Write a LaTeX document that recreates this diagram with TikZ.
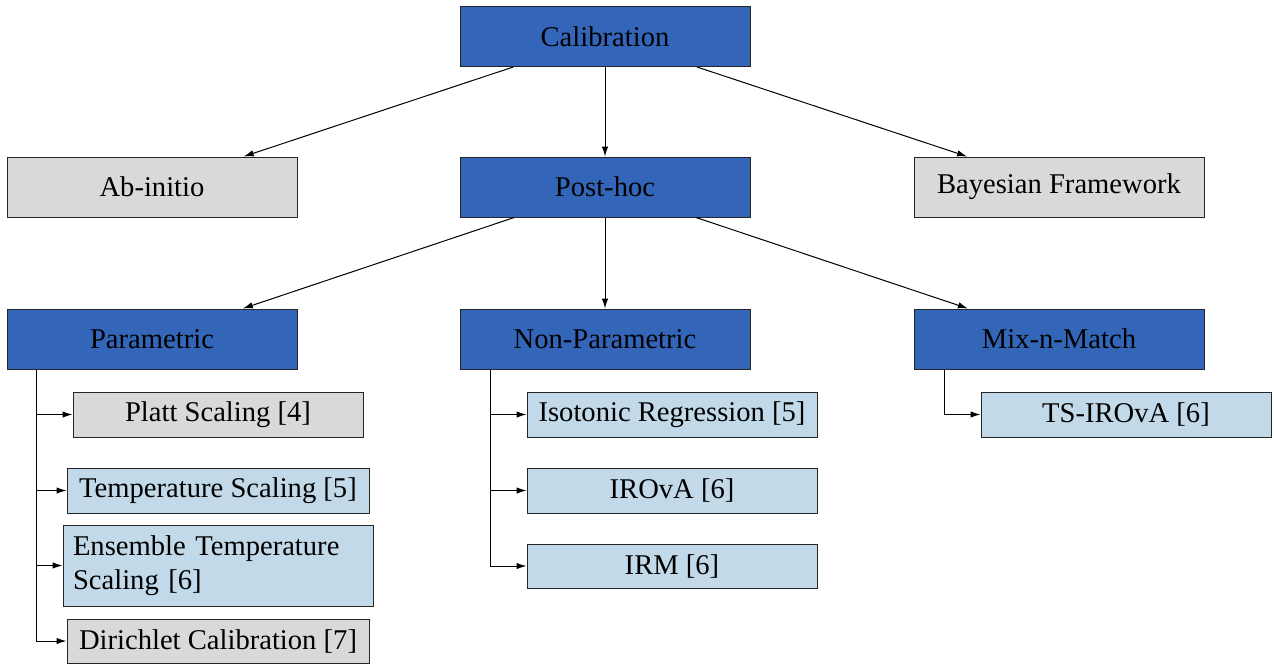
\documentclass[tikz,border=0pt]{standalone}
\usepackage{fontspec}
\setmainfont{Liberation Serif}
\usetikzlibrary{arrows.meta}
\definecolor{dblue}{RGB}{51,102,185}
\definecolor{lblue}{RGB}{193,217,232}
\definecolor{lgray}{RGB}{217,217,217}
\begin{document}
\begin{tikzpicture}[x=0.5pt,y=-0.5pt,
 box/.style={draw=black!85, line width=0.5pt, inner sep=0pt, font=\fontsize{14.3}{17}\selectfont},
 big/.style={box, minimum width=145pt, minimum height=30pt},
 mainbox/.style={big, fill=dblue},
 sidebox/.style={big, fill=lgray},
 leafg/.style={box, fill=lgray, minimum height=22.5pt},
 leafb/.style={box, fill=lblue, minimum height=22.5pt},
 arr/.style={-{Latex[length=5pt,width=3.2pt]}, line width=0.5pt}]
\useasboundingbox (0,0) rectangle (1274,666);
\node[mainbox] (cal) at (605,36.5) {Calibration};
\node[sidebox] (ab) at (152,187) {Ab-initio};
\node[mainbox] (post) at (605,187) {Post-hoc};
\node[sidebox] (bay) at (1059,187) {Bayesian Framework};
\node[mainbox] (param) at (152,339) {Parametric};
\node[mainbox] (nonp) at (605,339) {Non-Parametric};
\node[mainbox] (mix) at (1059,339) {Mix-n-Match};
\node[leafg, minimum width=145pt] (platt) at (218,414.5) {Platt Scaling [4]};
\node[leafb, minimum width=151pt] (temp) at (218,490.5) {Temperature Scaling [5]};
\node[leafb, minimum height=40.5pt, text width=145pt, inner xsep=5pt, align=left] (ens) at (218,565.5) {Ensemble Temperature\\Scaling [6]};
\node[leafg, minimum width=151pt, minimum height=22pt] (dir) at (218,641) {Dirichlet Calibration [7]};
\node[leafb, minimum width=145pt] (iso) at (672,414.5) {Isotonic Regression [5]};
\node[leafb, minimum width=145pt] (irova) at (672,490.5) {IROvA [6]};
\node[leafb, minimum width=145pt, minimum height=22pt] (irm) at (672,566) {IRM [6]};
\node[leafb, minimum width=145pt] (ts) at (1126,414.5) {TS-IROvA [6]};
\draw[arr] (cal) -- (ab);
\draw[arr] (cal) -- (post);
\draw[arr] (cal) -- (bay);
\draw[arr] (post) -- (param);
\draw[arr] (post) -- (nonp);
\draw[arr] (post) -- (mix);
\draw[arr] ([xshift=15pt]param.south west) |- (platt.west);
\draw[arr] ([xshift=15pt]param.south west) |- (temp.west);
\draw[arr] ([xshift=15pt]param.south west) |- (ens.west);
\draw[arr] ([xshift=15pt]param.south west) |- (dir.west);
\draw[arr] ([xshift=15.5pt]nonp.south west) |- (iso.west);
\draw[arr] ([xshift=15.5pt]nonp.south west) |- (irova.west);
\draw[arr] ([xshift=15.5pt]nonp.south west) |- (irm.west);
\draw[arr] ([xshift=15.5pt]mix.south west) |- (ts.west);
\end{tikzpicture}
\end{document}
